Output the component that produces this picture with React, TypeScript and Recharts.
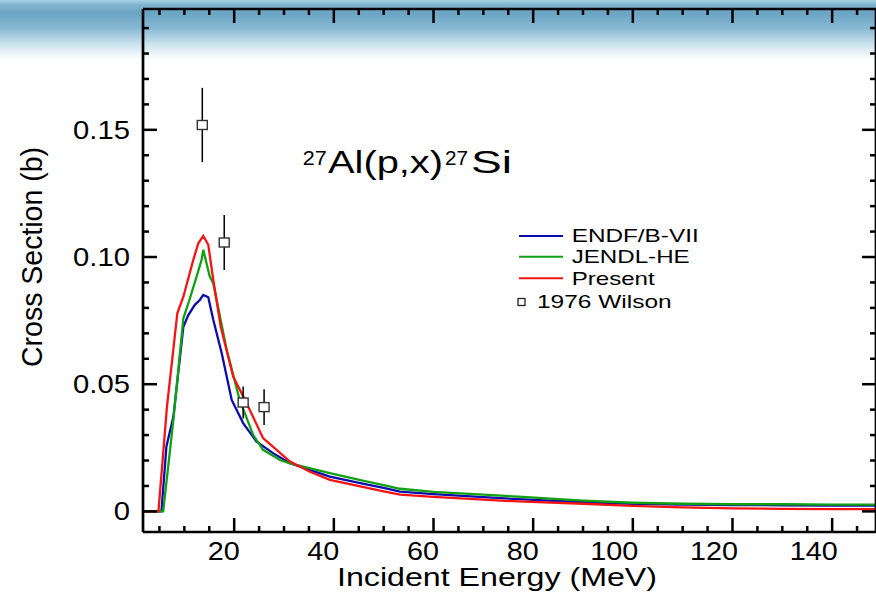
import React from 'react';
import { ComposedChart, Line, Scatter, ErrorBar, XAxis, YAxis, Legend } from 'recharts';

// ENDF/B-VII
const endfE = [2, 5.4, 6.4, 7.8, 9.8, 10.8, 12.1, 13.1, 13.8, 14.8, 15.8, 17.5, 19.5, 21.8, 24.5, 27.8, 31.2, 39.2, 46, 50, 53.3, 60, 70, 77, 90, 100, 110, 120, 130, 140, 150];
const endfXS = [0, 0, 0.0255, 0.0373, 0.0726, 0.0772, 0.0812, 0.0831, 0.0851, 0.0842, 0.0753, 0.0622, 0.0438, 0.0347, 0.0274, 0.0229, 0.0189, 0.0137, 0.0108, 0.0092, 0.0078, 0.0068, 0.0056, 0.0048, 0.0036, 0.003, 0.0027, 0.0025, 0.0024, 0.0023, 0.0023];

// JENDL-HE
const jendlE = [2, 5.75, 7.8, 9.8, 11, 12.45, 13.46, 13.8, 15.1, 15.8, 18.5, 21.1, 23.8, 25.8, 29.2, 31.2, 39.2, 46, 50, 53.3, 60, 70, 77, 90, 100, 110, 120, 130, 140, 150];
const jendlXS = [0, 0, 0.036, 0.0759, 0.083, 0.0923, 0.0989, 0.1028, 0.0923, 0.0897, 0.0635, 0.0438, 0.0301, 0.0242, 0.0202, 0.0189, 0.015, 0.012, 0.0103, 0.0089, 0.0077, 0.0066, 0.0058, 0.0042, 0.0034, 0.003, 0.0028, 0.0028, 0.0027, 0.0027];

// Present
const presentE = [2, 4.8, 6.5, 8.6, 9.8, 11.8, 12.8, 13.8, 14.8, 15.8, 17.3, 19.8, 22.5, 25.8, 31.2, 35.2, 39.2, 46, 50, 53.3, 60, 70, 77, 90, 100, 110, 120, 130, 140, 150];
const presentXS = [0, 0, 0.041, 0.078, 0.0844, 0.0989, 0.1054, 0.1083, 0.1048, 0.091, 0.0726, 0.053, 0.0425, 0.0288, 0.0196, 0.0156, 0.0124, 0.0095, 0.0079, 0.0066, 0.0057, 0.0046, 0.0039, 0.003, 0.0022, 0.0016, 0.0012, 0.001, 0.0009, 0.0009];

// 1976 Wilson
const wilsonE = [13.6, 18.0, 21.8, 26.0];
const wilsonXS = [0.1519, 0.1057, 0.0428, 0.041];
const wilsonErr = [0.0146, 0.0108, 0.0063, 0.007];

const xTicks = [5, 10, 15, 20, 25, 30, 35, 40, 45, 50, 55, 60, 65, 70, 75, 80, 85, 90, 95, 100, 105, 110, 115, 120, 125, 130, 135, 140, 145];
const xMajor = [20, 40, 60, 80, 100, 120, 140];
const xMajorLabels = ['20', '40', '60', '80', '100', '120', '140'];
const yTicks = [0, 0.01, 0.02, 0.03, 0.04, 0.05, 0.06, 0.07, 0.08, 0.09, 0.1, 0.11, 0.12, 0.13, 0.14, 0.15, 0.16, 0.17, 0.18, 0.19];
const yMajor = [0, 0.05, 0.1, 0.15];
const yMajorLabels = ['0', '0.05', '0.10', '0.15'];

const X_DOMAIN = [1.7, 148.8];
const Y_DOMAIN = [-0.0081, 0.1975];

const endfData = endfE.map((e, i) => ({ e, xs: endfXS[i] }));
const jendlData = jendlE.map((e, i) => ({ e, xs: jendlXS[i] }));
const presentData = presentE.map((e, i) => ({ e, xs: presentXS[i] }));
const wilsonData = wilsonE.map((e, i) => ({ e, xs: wilsonXS[i], err: wilsonErr[i] }));

const FONT = '"Liberation Sans", Arial, Helvetica, sans-serif';
const BLUE = '#0c0cae';
const GREEN = '#12a012';
const RED = '#f41414';
const MAJOR = 14;
const MINOR = 6;

// plot box in page pixels (chart margins + axis sizes below)
const PLOT_L = 143;
const PLOT_R = 876;
const PLOT_T = 9;
const PLOT_B = 532;
const xPx = (e: number) => PLOT_L + ((e - X_DOMAIN[0]) / (X_DOMAIN[1] - X_DOMAIN[0])) * (PLOT_R - PLOT_L);

const majorIndex = (list: number[], v: number) => list.findIndex((m) => Math.abs(m - v) < 1e-6);

const BottomLabel = (props: any) => {
  const { x, y, payload } = props;
  const idx = majorIndex(xMajor, payload.value);
  if (idx < 0) return null;
  return (
    <text transform={`translate(${x + 5.5},${y + 28}) scale(1.15,1)`} textAnchor="end" fontSize={25} fontFamily={FONT} fill="#000" stroke="none">
      {xMajorLabels[idx]}
    </text>
  );
};

const LeftTick = (props: any) => {
  const { x, y, payload } = props;
  const idx = majorIndex(yMajor, payload.value);
  const len = idx >= 0 ? MAJOR : MINOR;
  return (
    <g>
      <rect x={x} y={y - 1.25} width={len} height={2.5} fill="#000" stroke="none" />
      {idx >= 0 && (
        <text transform={`translate(${x - 13},${y}) scale(1.17,1)`} textAnchor="end" dy="0.36em" fontSize={25} fontFamily={FONT} fill="#000" stroke="none">
          {yMajorLabels[idx]}
        </text>
      )}
    </g>
  );
};

const RightTick = (props: any) => {
  const { x, y, payload } = props;
  const len = majorIndex(yMajor, payload.value) >= 0 ? MAJOR : MINOR;
  return <rect x={x - len} y={y - 1.25} width={len} height={2.5} fill="#000" stroke="none" />;
};

const Square = (props: any) => {
  const { cx, cy } = props;
  if (cx == null || cy == null) return null;
  return <rect x={cx - 5} y={cy - 4.5} width={10} height={9} fill="#fff" stroke="#333" strokeWidth={1.4} />;
};

const LegendBox = () => (
  <svg width={200} height={95} style={{ overflow: 'visible' }}>
    <line x1={19} y1={16} x2={63} y2={16} stroke={BLUE} strokeWidth={2} />
    <line x1={19} y1={36.7} x2={63} y2={36.7} stroke={GREEN} strokeWidth={2} />
    <line x1={19} y1={58.3} x2={63} y2={58.3} stroke={RED} strokeWidth={2} />
    <rect x={18} y={78.5} width={7} height={7} fill="#fff" stroke="#222" strokeWidth={1.3} />
    <text x={71.7} y={22.4} fontSize={17.7} fontFamily={FONT} textLength={127} lengthAdjust="spacingAndGlyphs">ENDF/B-VII</text>
    <text x={71.7} y={43} fontSize={17.7} fontFamily={FONT} textLength={118} lengthAdjust="spacingAndGlyphs">JENDL-HE</text>
    <text x={71.7} y={64.6} fontSize={17.7} fontFamily={FONT} textLength={83} lengthAdjust="spacingAndGlyphs">Present</text>
    <text x={37} y={88.4} fontSize={17.7} fontFamily={FONT} textLength={134.7} lengthAdjust="spacingAndGlyphs">1976 Wilson</text>
  </svg>
);

const axisLine = { stroke: '#000', strokeWidth: 2.7 };

export default function App() {
  return (
    <div
      style={{
        position: 'absolute',
        left: 0,
        top: 0,
        width: 876,
        height: 593,
        overflow: 'hidden',
        background:
          'linear-gradient(to bottom, #a8d3e3 0px, #7fb4cf 5px, #6ba4c4 13px, #86b8d3 28px, #cfe4ef 45px, #ffffff 60px)',
      }}
    >
      <ComposedChart width={877} height={593} margin={{ top: 8, right: 0, bottom: 0, left: 0 }}>
        <XAxis
          dataKey="e"
          type="number"
          domain={X_DOMAIN}
          allowDataOverflow
          ticks={xTicks}
          interval={0}
          height={61}
          tickSize={0}
          tickMargin={0}
          tickLine={false}
          axisLine={axisLine}
          tick={<BottomLabel />}
        />
        <XAxis
          xAxisId="top"
          orientation="top"
          dataKey="e"
          type="number"
          domain={X_DOMAIN}
          allowDataOverflow
          height={1}
          tick={false}
          tickLine={false}
          axisLine={axisLine}
        />
        <YAxis
          type="number"
          domain={Y_DOMAIN}
          allowDataOverflow
          ticks={yTicks}
          interval={0}
          width={143}
          tickSize={0}
          tickMargin={0}
          tickLine={false}
          axisLine={axisLine}
          tick={<LeftTick />}
        />
        <YAxis
          yAxisId="right"
          orientation="right"
          type="number"
          domain={Y_DOMAIN}
          allowDataOverflow
          ticks={yTicks}
          interval={0}
          width={1}
          tickSize={0}
          tickMargin={0}
          tickLine={false}
          axisLine={axisLine}
          tick={<RightTick />}
        />
        <Legend
          layout="vertical"
          verticalAlign="middle"
          align="center"
          wrapperStyle={{ left: 500, top: 220, width: 200, height: 95 }}
          content={<LegendBox />}
        />
        <Line data={endfData} dataKey="xs" name="ENDF/B-VII" type="linear" stroke={BLUE} strokeWidth={2.3} dot={false} isAnimationActive={false} />
        <Line data={jendlData} dataKey="xs" name="JENDL-HE" type="linear" stroke={GREEN} strokeWidth={2.3} dot={false} isAnimationActive={false} />
        <Line data={presentData} dataKey="xs" name="Present" type="linear" stroke={RED} strokeWidth={2.3} dot={false} isAnimationActive={false} />
        <Scatter data={wilsonData} dataKey="xs" name="1976 Wilson" shape={<Square />} isAnimationActive={false}>
          <ErrorBar dataKey="err" direction="y" width={0} stroke="#000" strokeWidth={1.5} isAnimationActive={false} />
        </Scatter>
      </ComposedChart>
      <svg width={876} height={593} style={{ position: 'absolute', left: 0, top: 0, pointerEvents: 'none' }}>
        {/* inward x tick marks on the bottom and top frame */}
        {xTicks.map((t) => {
          const len = majorIndex(xMajor, t) >= 0 ? MAJOR : MINOR;
          const x = xPx(t);
          return (
            <g key={t}>
              <rect x={x - 1.25} y={PLOT_B - len} width={2.5} height={len} fill="#000" />
              <rect x={x - 1.25} y={PLOT_T} width={2.5} height={len} fill="#000" />
            </g>
          );
        })}
        <text x={337} y={586} fontSize={25.5} fontFamily={FONT} textLength={320} lengthAdjust="spacingAndGlyphs">
          Incident Energy (MeV)
        </text>
        <text
          transform="translate(42,257) scale(1.19,1) rotate(-90)"
          textAnchor="middle"
          fontSize={25.5}
          fontFamily={FONT}
          textLength={220}
          lengthAdjust="spacingAndGlyphs"
        >
          Cross Section (b)
        </text>
        <text x={302.7} y={165} fontSize={20} fontFamily={FONT} textLength={24} lengthAdjust="spacingAndGlyphs">27</text>
        <text x={328} y={173.3} fontSize={31.5} fontFamily={FONT} textLength={115} lengthAdjust="spacingAndGlyphs">Al(p,x)</text>
        <text x={445} y={165} fontSize={20} fontFamily={FONT} textLength={23} lengthAdjust="spacingAndGlyphs">27</text>
        <text x={471} y={173.3} fontSize={31.5} fontFamily={FONT} textLength={41} lengthAdjust="spacingAndGlyphs">Si</text>
      </svg>
    </div>
  );
}
